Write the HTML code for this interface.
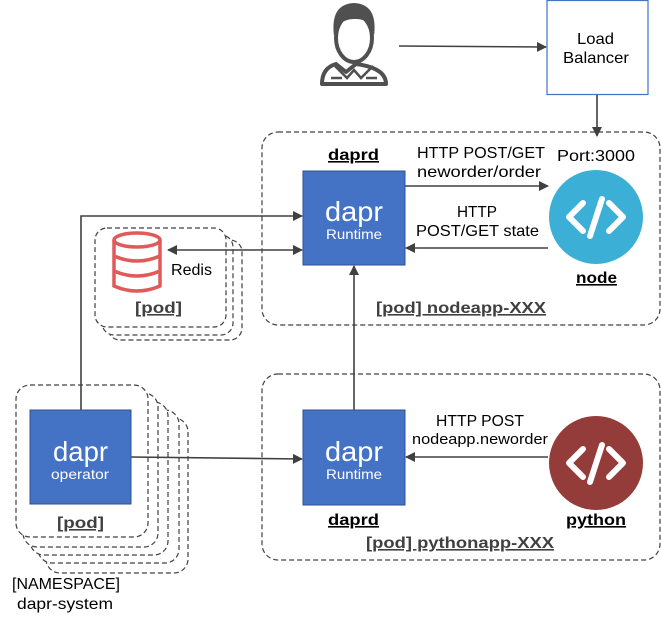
<!DOCTYPE html>
<html><head><meta charset="utf-8"><style>
html,body{margin:0;padding:0;background:#fff}
svg{display:block}
text{font-family:"Liberation Sans",sans-serif;fill:#000}
</style></head><body>
<svg width="661" height="622" viewBox="0 0 661 622" xmlns="http://www.w3.org/2000/svg">
<defs>
<marker id="a" markerWidth="10" markerHeight="10" refX="9" refY="5" orient="auto" markerUnits="userSpaceOnUse"><path d="M0,0 L10,5 L0,10 z" fill="#404040"/></marker>
<marker id="b" markerWidth="10" markerHeight="10" refX="1" refY="5" orient="auto" markerUnits="userSpaceOnUse"><path d="M10,0 L0,5 L10,10 z" fill="#404040"/></marker>
</defs>
<g fill="none" stroke="#404040" stroke-width="1.2" stroke-dasharray="5,3">
<rect x="262" y="132" width="398" height="193" rx="16"/>
<rect x="262" y="374" width="398" height="186" rx="16"/>
<rect x="46" y="418" width="142" height="155" rx="14" fill="#fff"/>
<rect x="38" y="410" width="141" height="153" rx="14" fill="#fff"/>
<rect x="30" y="402" width="138" height="153" rx="14" fill="#fff"/>
<rect x="23" y="393" width="135" height="154" rx="14" fill="#fff"/>
<rect x="16" y="385" width="132" height="152" rx="14" fill="#fff"/>
<rect x="108" y="240" width="134" height="100" rx="12" fill="#fff"/>
<rect x="102" y="235" width="131" height="100" rx="12" fill="#fff"/>
<rect x="95" y="228" width="131" height="99" rx="12" fill="#fff"/>
</g>
<g stroke="#404040" stroke-width="1.6" fill="none">
<line x1="399" y1="46" x2="546" y2="47" marker-end="url(#a)"/>
<line x1="597" y1="95" x2="597" y2="136" marker-end="url(#a)"/>
<line x1="405" y1="186" x2="548" y2="186" marker-end="url(#a)"/>
<line x1="548" y1="248" x2="406" y2="248" marker-end="url(#a)"/>
<line x1="354" y1="410" x2="354" y2="266" marker-end="url(#a)"/>
<line x1="548" y1="457" x2="406" y2="457" marker-end="url(#a)"/>
<line x1="131" y1="457" x2="302" y2="459" marker-end="url(#a)"/>
<polyline points="81,410 81,216 302,216" marker-end="url(#a)"/>
<line x1="168" y1="250" x2="302" y2="250" marker-start="url(#b)" marker-end="url(#a)"/>
</g>
<rect x="547" y="0.5" width="101" height="94" fill="#fff" stroke="#4472c4" stroke-width="1.2"/>
<text x="577" y="44" font-size="16" textLength="37" lengthAdjust="spacingAndGlyphs">Load</text>
<text x="563" y="63" font-size="16" textLength="66" lengthAdjust="spacingAndGlyphs">Balancer</text>
<!-- person -->
<g stroke="#505050" stroke-width="4" fill="#fff">
<path d="M322,84 Q322,68 336,64 L346,72 L356,64 Q386,68 386,84 Z" stroke-linejoin="round"/>
<ellipse cx="354" cy="38" rx="18" ry="24"/>
</g>
<path d="M334,36 Q330,4 354,3 Q378,4 374,36 Q372,18 354,19 Q338,19 334,36 Z" fill="#505050"/>
<path d="M335,66 L347,78 L354,70 L361,78 L373,66" stroke="#505050" stroke-width="2.5" fill="none"/>
<line x1="331" y1="78" x2="342" y2="78" stroke="#505050" stroke-width="2.5"/>
<line x1="366" y1="78" x2="377" y2="78" stroke="#505050" stroke-width="2.5"/>
<!-- dapr boxes -->
<rect x="303" y="171" width="102" height="94" fill="#4472c4" stroke="#2f528f"/>
<text x="325" y="221" font-size="28" textLength="58" lengthAdjust="spacingAndGlyphs" style="fill:#fff">dapr</text>
<text x="326" y="239" font-size="14" textLength="56" lengthAdjust="spacingAndGlyphs" style="fill:#fff">Runtime</text>
<rect x="303" y="410" width="102" height="95" fill="#4472c4" stroke="#2f528f"/>
<text x="325" y="461" font-size="28" textLength="58" lengthAdjust="spacingAndGlyphs" style="fill:#fff">dapr</text>
<text x="326" y="479" font-size="14" textLength="56" lengthAdjust="spacingAndGlyphs" style="fill:#fff">Runtime</text>
<rect x="30" y="410" width="101" height="94" fill="#4472c4" stroke="#2f528f"/>
<text x="53" y="461" font-size="28" textLength="55" lengthAdjust="spacingAndGlyphs" style="fill:#fff">dapr</text>
<text x="51" y="479" font-size="14" textLength="58" lengthAdjust="spacingAndGlyphs" style="fill:#fff">operator</text>
<circle cx="596" cy="217" r="47" fill="#3bafd6"/>
<circle cx="596" cy="463" r="47" fill="#943c3a"/>
<g stroke="#fff" stroke-width="6" fill="none" stroke-linecap="round" stroke-linejoin="round">
<polyline points="583,203 569,217 583,231"/><polyline points="609,203 623,217 609,231"/><line x1="602" y1="199" x2="590" y2="236"/>
<polyline points="583,449 569,463 583,477"/><polyline points="609,449 623,463 609,477"/><line x1="602" y1="445" x2="590" y2="482"/>
</g>
<g stroke="#e05a5a" stroke-width="3.5" fill="none">
<ellipse cx="137" cy="240" rx="23" ry="7"/>
<path d="M114,240 V286 Q137,296 160,286 V240"/>
<path d="M114,256 Q137,266 160,256 M114,271 Q137,281 160,271"/>
</g>
<text x="171" y="275" font-size="16" textLength="41" lengthAdjust="spacingAndGlyphs">Redis</text>
<text x="135" y="313" font-size="16" font-weight="bold" textLength="47" lengthAdjust="spacingAndGlyphs" text-decoration="underline" style="fill:#404040">[pod]</text>
<text x="57" y="528" font-size="16" font-weight="bold" textLength="47" lengthAdjust="spacingAndGlyphs" text-decoration="underline" style="fill:#404040">[pod]</text>
<text x="12" y="589" font-size="16" textLength="108" lengthAdjust="spacingAndGlyphs">[NAMESPACE]</text>
<text x="17" y="609" font-size="16" textLength="96" lengthAdjust="spacingAndGlyphs">dapr-system</text>
<text x="328" y="160" font-size="16" font-weight="bold" textLength="51" lengthAdjust="spacingAndGlyphs" text-decoration="underline">daprd</text>
<text x="328" y="525" font-size="16" font-weight="bold" textLength="51" lengthAdjust="spacingAndGlyphs" text-decoration="underline">daprd</text>
<text x="417" y="158" font-size="16" textLength="128" lengthAdjust="spacingAndGlyphs">HTTP POST/GET</text>
<text x="417" y="177" font-size="16" textLength="124" lengthAdjust="spacingAndGlyphs">neworder/order</text>
<text x="557" y="161" font-size="16" textLength="78" lengthAdjust="spacingAndGlyphs">Port:3000</text>
<text x="457" y="217" font-size="16" textLength="40" lengthAdjust="spacingAndGlyphs">HTTP</text>
<text x="416" y="236" font-size="16" textLength="123" lengthAdjust="spacingAndGlyphs">POST/GET state</text>
<text x="576" y="283" font-size="16" font-weight="bold" textLength="41" lengthAdjust="spacingAndGlyphs" text-decoration="underline">node</text>
<text x="376" y="313" font-size="16" font-weight="bold" textLength="170" lengthAdjust="spacingAndGlyphs" text-decoration="underline" style="fill:#404040">[pod] nodeapp-XXX</text>
<text x="436" y="426" font-size="16" textLength="88" lengthAdjust="spacingAndGlyphs">HTTP POST</text>
<text x="412" y="444" font-size="15" textLength="136" lengthAdjust="spacingAndGlyphs">nodeapp.neworder</text>
<text x="566" y="525" font-size="16" font-weight="bold" textLength="60" lengthAdjust="spacingAndGlyphs" text-decoration="underline">python</text>
<text x="366" y="548" font-size="16" font-weight="bold" textLength="188" lengthAdjust="spacingAndGlyphs" text-decoration="underline" style="fill:#404040">[pod] pythonapp-XXX</text>
</svg>
</body></html>
